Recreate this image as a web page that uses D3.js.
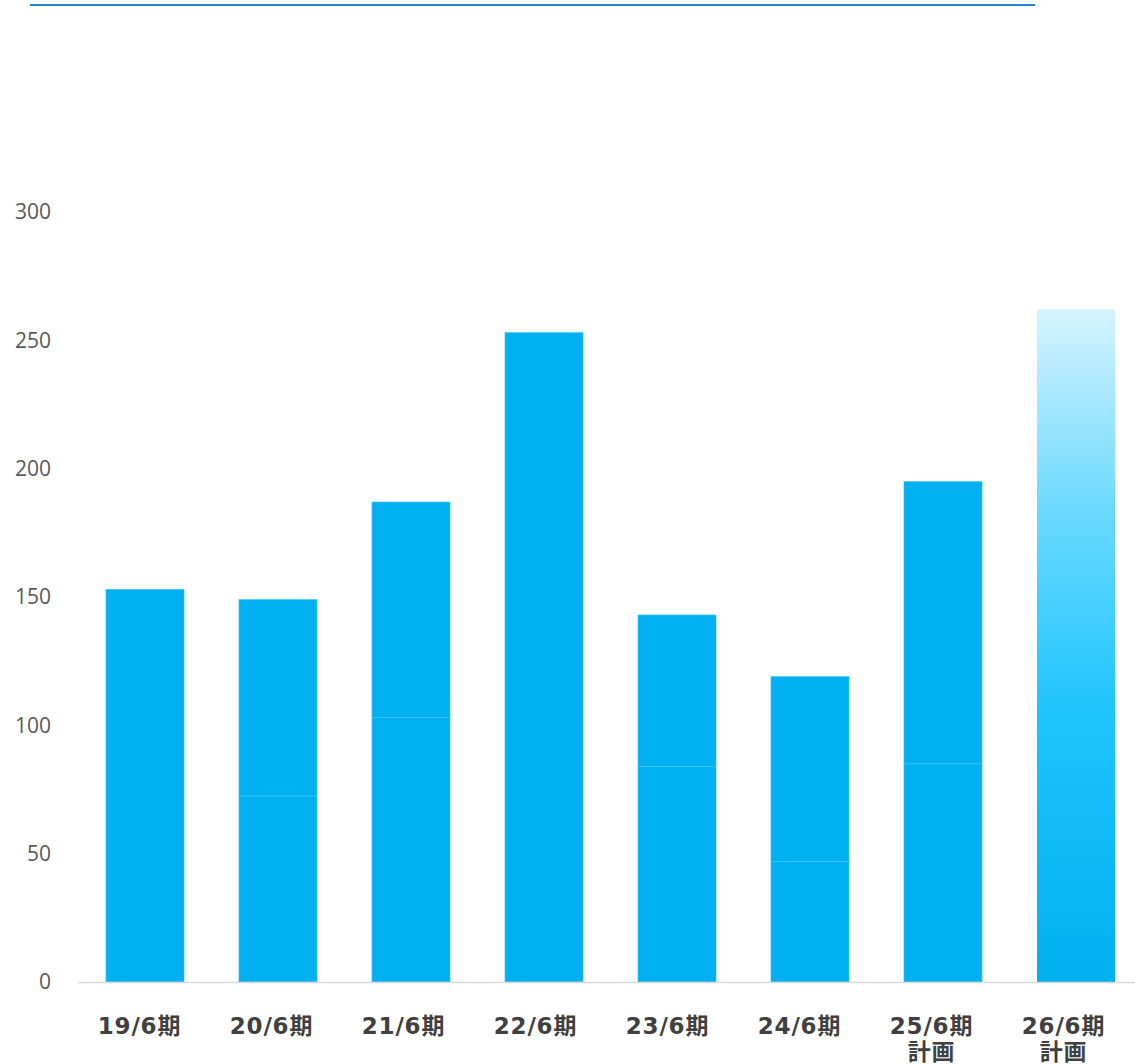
<!DOCTYPE html>
<html>
<head>
<meta charset="utf-8">
<script src="https://cdn.jsdelivr.net/npm/d3@7"></script>
<style>
  html, body { margin: 0; padding: 0; background: #fff; }
  svg { display: block; }
</style>
</head>
<body>
<script>
// Fiscal periods (June year-end); the last two are plan figures
const categories = ["19/6期", "20/6期", "21/6期", "22/6期", "23/6期", "24/6期", "25/6期", "26/6期"];
const subLabels  = ["", "", "", "", "", "", "計画", "計画"];
// Lower and upper parts of each stacked bar
const lowerValues = [153, 72.5, 103, 253, 84, 47, 85, 262];
const upperValues = [0, 76.5, 84, 0, 59, 72, 110, 0];
const yTicks = [0, 50, 100, 150, 200, 250, 300];

const W = 1135, H = 1064;
const svg = d3.select("body").append("svg").attr("width", W).attr("height", H);

const defs = svg.append("defs");
const grad = defs.append("linearGradient").attr("id", "planFade")
  .attr("x1", 0).attr("y1", 0).attr("x2", 0).attr("y2", 1);
[[0, "#d6f3fe"], [0.3, "#6ad9ff"], [0.6, "#1ec4fd"], [1, "#02b0f0"]]
  .forEach(([o, c]) => grad.append("stop").attr("offset", o).attr("stop-color", c));

// Header rule
svg.append("line").attr("x1", 30).attr("x2", 1035).attr("y1", 5).attr("y2", 5)
  .attr("stroke", "#1e86d6").attr("stroke-width", 2);

const x = d3.scaleBand().domain(categories).range([78.5, 1142.5]).paddingInner(0.413).paddingOuter(0.2065);
// Category text sits on a slightly tighter grid than the bars
const xLabel = d3.scaleBand().domain(categories).range([73.5, 1129.5]);
const y = d3.scaleLinear().domain([0, 300]).range([982, 212]);

// Y axis labels
const yAxis = svg.append("g").attr("transform", "translate(51,0)")
  .call(d3.axisLeft(y).tickValues(yTicks).tickSize(0).tickPadding(0));
yAxis.select(".domain").remove();
yAxis.selectAll("text")
  .attr("font-family", "'Open Sans', 'Noto Sans', sans-serif")
  .attr("font-size", 21).attr("fill", "#595959");

// Bars
const data = categories.map((c, i) => ({ c, lo: lowerValues[i], up: upperValues[i], i }));
const bars = svg.append("g");
data.forEach(d => {
  const plan = d.i === categories.length - 1;
  const fill = plan ? "url(#planFade)" : "#00b0f0";
  bars.append("rect")
    .attr("x", x(d.c)).attr("width", x.bandwidth())
    .attr("y", y(d.lo)).attr("height", y(0) - y(d.lo))
    .attr("fill", fill)
    .attr("stroke", plan ? "none" : "#3cc6f4").attr("stroke-width", 0.6);
  if (d.up > 0) {
    bars.append("rect")
      .attr("x", x(d.c)).attr("width", x.bandwidth())
      .attr("y", y(d.lo + d.up)).attr("height", y(d.lo) - y(d.lo + d.up))
      .attr("fill", fill)
      .attr("stroke", "#3cc6f4").attr("stroke-width", 0.6);
  }
});

// X axis baseline
svg.append("line").attr("x1", 78).attr("x2", 1135).attr("y1", 982.5).attr("y2", 982.5)
  .attr("stroke", "#d9d9d9").attr("stroke-width", 1.5);

// Category labels
const xl = svg.append("g")
  .attr("font-family", "'DejaVu Sans', 'Noto Sans CJK JP', sans-serif")
  .attr("font-weight", "bold").attr("font-size", 23).attr("fill", "#404040")
  .attr("letter-spacing", 0.8)
  .attr("text-anchor", "middle");
categories.forEach((c, i) => {
  const cx = xLabel(c) + xLabel.bandwidth() / 2;
  xl.append("text").attr("x", cx).attr("y", 1034).text(c);
  if (subLabels[i]) xl.append("text").attr("x", cx).attr("y", 1060).text(subLabels[i]);
});
</script>
</body>
</html>
